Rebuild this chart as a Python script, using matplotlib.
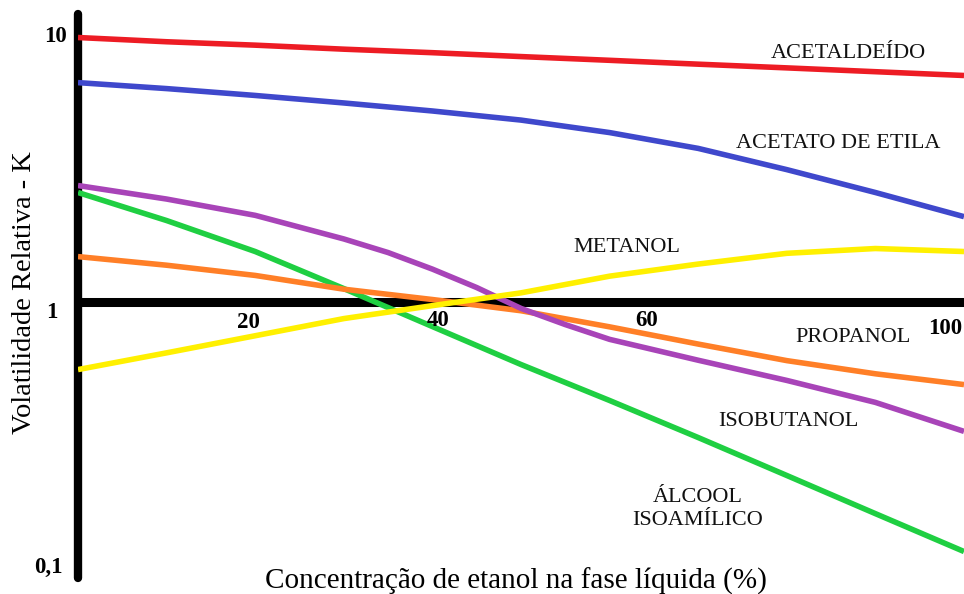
import matplotlib
matplotlib.use("Agg")
import matplotlib.pyplot as plt

plt.rcParams['font.family'] = ['Liberation Serif', 'DejaVu Serif']

# ---- data ----
x_grid = [0, 10, 20, 30, 40, 50, 60, 70, 80, 90, 100]
x_fine = [0, 10, 20, 30, 35, 40, 45, 50, 55, 60, 70, 80, 90, 100]

acetaldeido = [9.96, 9.6, 9.32, 9.0, 8.73, 8.44, 8.17, 7.9, 7.65, 7.4, 7.16]
acetato_etila = [6.73, 6.39, 6.02, 5.64, 5.26, 4.86, 4.36, 3.80, 3.16, 2.59, 2.10]
metanol = [0.556, 0.643, 0.746, 0.866, 0.969, 1.083, 1.252, 1.391, 1.527, 1.592, 1.551]
propanol = [1.484, 1.377, 1.260, 1.118, 1.022, 0.927, 0.806, 0.694, 0.601, 0.536, 0.488]
isobutanol = [2.752, 2.447, 2.124, 1.730, 1.537, 1.331, 1.134, 0.946, 0.822, 0.723,
              0.603, 0.506, 0.418, 0.325]
isoamilico = [2.590, 2.030, 1.551, 1.124, 0.808, 0.581, 0.425, 0.308, 0.2215, 0.159, 0.1144]

xtick_labels = ['20', '40', '60', '100']
ytick_labels = ['10', '1', '0,1']

series_names = ['ACETALDEÍDO', 'ACETATO DE ETILA', 'METANOL', 'PROPANOL',
                'ISOBUTANOL', 'ÁLCOOL\nISOAMÍLICO']

# ---- layout / style ----
W, H = 964, 594
fig = plt.figure(figsize=(W / 100, H / 100), dpi=100)
ax = fig.add_axes([78 / W, (H - 578) / H, (964 - 78) / W, 564 / H])
ax.set_yscale('log')
ax.set_xlim(0, 100)
ax.set_ylim(10 ** -1.0415, 10 ** 1.087)

kw = dict(lw=4.0, solid_capstyle='butt', solid_joinstyle='round')
ax.plot(x_grid, acetaldeido, color='#ED1C24', zorder=3, **kw)
ax.plot(x_grid, acetato_etila, color='#3F48CC', zorder=3, **kw)
ax.plot(x_grid, isoamilico, color='#1FCF42', zorder=3, **kw)
ax.plot(x_grid, propanol, color='#FF7F27', zorder=4, **kw)
ax.plot(x_fine, isobutanol, color='#A844B8', zorder=5, **kw)
ax.plot(x_grid, metanol, color='#FFF000', zorder=6, **kw)

# thick axis lines
ax.axhline(1, color='black', lw=6.5, zorder=2)
for s in ['top', 'right', 'bottom']:
    ax.spines[s].set_visible(False)
ax.spines['left'].set_linewidth(6.0)
ax.spines['left'].set_capstyle('round')
ax.set_xticks([])
ax.set_yticks([])
ax.yaxis.set_minor_locator(matplotlib.ticker.NullLocator())

# x tick labels under the y=1 line
xtick_pos = [19.2, 40.6, 64.2, 97.9]
xtick_dy = [-20.5, -18.5, -18.5, -26.5]
for p, lab, dy in zip(xtick_pos, xtick_labels, xtick_dy):
    ax.annotate(lab, xy=(p, 1), xytext=(0, dy), textcoords='offset pixels',
                ha='center', va='center', fontsize=16.5, fontweight='bold')

# y tick labels
ytick_px = [(55, 36), (52, 312), (48, 567)]
for (px, py), lab in zip(ytick_px, ytick_labels):
    fig.text(px / W, 1 - py / H, lab, ha='center', va='center',
             fontsize=16.5, fontweight='bold')

# series labels
label_px = [(848, 54), (838, 144), (627, 247), (853, 337), (788, 422), (698, 509)]
for (px, py), name in zip(label_px, series_names):
    fig.text(px / W, 1 - py / H, name, ha='center', va='center',
             fontsize=16, linespacing=1.25, color='#111111')

fig.text(516 / W, 1 - 581 / H, 'Concentração de etanol na fase líquida (%)',
         ha='center', va='center', fontsize=21)
fig.text(25 / W, 1 - 293 / H, 'Volatilidade Relativa - K', ha='center', va='center',
         rotation=90, fontsize=20.5)

fig.savefig('out.png', dpi=100)
